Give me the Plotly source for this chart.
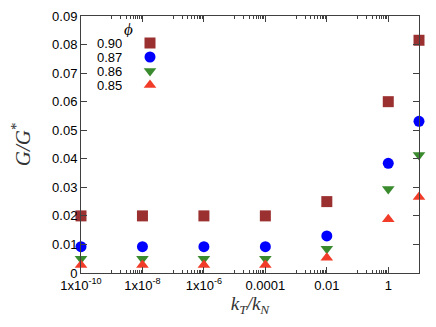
import plotly.graph_objects as go

# ----------------------------
# Data
# ----------------------------

k_ratio = [1e-10, 1e-8, 1e-6, 1e-4, 1e-2, 1, 10]

phi_labels = ["0.90", "0.87", "0.86", "0.85"]

g_090 = [0.0200, 0.0200, 0.0200, 0.0200, 0.0250, 0.0600, 0.0815]
g_087 = [0.0092, 0.0092, 0.0092, 0.0092, 0.0130, 0.0384, 0.0531]
g_086 = [0.0050, 0.0050, 0.0050, 0.0050, 0.0085, 0.0294, 0.0413]
g_085 = [0.0028, 0.0028, 0.0028, 0.0028, 0.0053, 0.0188, 0.0266]

x_tickvals = [1e-10, 1e-8, 1e-6, 1e-4, 1e-2, 1]
x_ticktext = ["1x10<sup>-10</sup>", "1x10<sup>-8</sup>", "1x10<sup>-6</sup>",
              "0.0001", "0.01", "1"]

# ----------------------------
# Styles
# ----------------------------

series = [
    (phi_labels[0], g_090, "square", "#9b3030"),
    (phi_labels[1], g_087, "circle", "#0000ff"),
    (phi_labels[2], g_086, "triangle-down", "#3a8a2e"),
    (phi_labels[3], g_085, "triangle-up", "#f03c28"),
]

# minor ticks like gnuplot: 1..9 x 10^k for odd k
minor_vals = [m * 10.0 ** k for k in (-9, -7, -5, -3, -1) for m in range(1, 10)]

# page body has an 8px margin, so the figure is shrunk by that much
OFF = 8
W, H = 436 - OFF, 327 - OFF
L, R, T, B = 81 - OFF, 17, 16 - OFF, 54
plot_w = W - L - R
plot_h = H - T - B

def px_x(p):
    # page pixel -> paper fraction
    return (p - OFF - L) / plot_w

def px_y(p):
    return (H - B - (p - OFF)) / plot_h

legend_rows = [43, 57, 71, 85]

fig = go.Figure()
layout_legends = {}
for i, (name, vals, sym, col) in enumerate(series):
    key = "legend" if i == 0 else f"legend{i + 1}"
    fig.add_trace(go.Scatter(
        x=k_ratio, y=vals, mode="markers", name=name,
        marker=dict(symbol=sym, size=11, color=col),
        cliponaxis=False, legend=key,
        hovertemplate="φ = " + name + "<br>k<sub>T</sub>/k<sub>N</sub> = %{x}<br>G/G* = %{y}<extra></extra>",
    ))
    layout_legends[key] = dict(
        x=px_x(150 - 20), xanchor="left",
        y=px_y(legend_rows[i]), yanchor="middle",
        bgcolor="rgba(0,0,0,0)",
        font=dict(size=1, color="rgba(0,0,0,0)"),
    )

annotations = []
for i, name in enumerate(phi_labels):
    annotations.append(dict(
        x=px_x(123), y=px_y(legend_rows[i]), xref="paper", yref="paper",
        text=name, showarrow=False, xanchor="right", yanchor="middle",
        height=14, borderpad=0,
        font=dict(family="Liberation Sans, Arial", size=13, color="black"),
    ))
annotations.append(dict(
    x=px_x(128), y=px_y(29), xref="paper", yref="paper",
    text="<i>ϕ</i>", showarrow=False, xanchor="center", yanchor="middle",
    height=16, borderpad=0,
    font=dict(family="Liberation Serif, Times New Roman", size=17, color="black"),
))

axis_common = dict(
    showgrid=False, zeroline=False, automargin=False,
    showline=True, linecolor="#404040", linewidth=1,
    mirror="allticks", ticks="inside", ticklen=6, tickcolor="#404040",
    tickfont=dict(family="Liberation Sans, Arial", size=13, color="black"),
)

fig.update_layout(
    width=W, height=H,
    margin=dict(l=L, r=R, t=T, b=B),
    paper_bgcolor="white", plot_bgcolor="white",
    showlegend=True,
    annotations=annotations,
    xaxis=dict(
        type="log", range=[-10, 1],
        tickmode="array", tickvals=x_tickvals, ticktext=x_ticktext,
        minor=dict(tickmode="array", tickvals=minor_vals, ticks="inside",
                   ticklen=3, tickcolor="#404040", showgrid=False),
        title=dict(text="<i>k</i><sub><i>T</i></sub><i>/k</i><sub><i>N</i></sub>",
                   font=dict(family="Liberation Serif, Times New Roman", size=19, color="#333"),
                   standoff=1),
        **axis_common,
    ),
    yaxis=dict(
        range=[0, 0.09], dtick=0.01, tick0=0,
        title=dict(text="<i>G/G</i><sup>*</sup>",
                   font=dict(family="Liberation Serif, Times New Roman", size=21, color="#333"),
                   standoff=22),
        **axis_common,
    ),
    **layout_legends,
)

fig.write_html("out.html")
